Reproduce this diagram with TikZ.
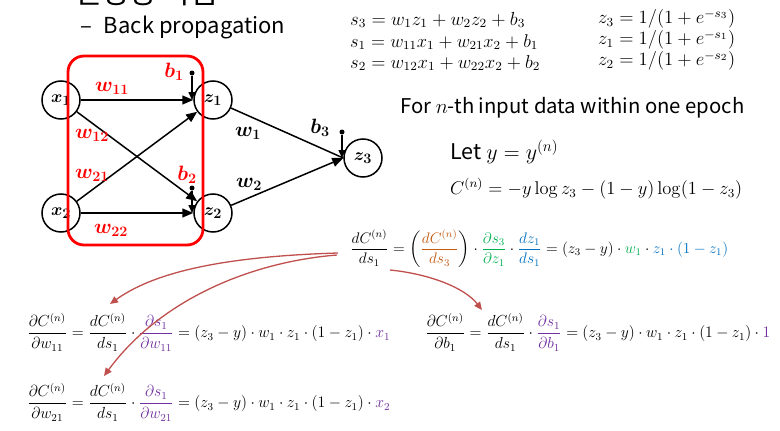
\documentclass[tikz,border=0pt]{standalone}
\usepackage[no-math]{fontspec}
\usepackage{amsmath,bm,graphicx}
\setmainfont{Noto Sans CJK KR}
\usetikzlibrary{arrows.meta}
\definecolor{boxred}{RGB}{255,0,0}
\definecolor{arrred}{RGB}{192,80,77}
\definecolor{brn}{RGB}{197,90,17}
\definecolor{grn}{RGB}{0,176,80}
\definecolor{blu}{RGB}{0,112,192}
\definecolor{pur}{RGB}{112,48,160}
\newcommand{\fitw}[2]{\resizebox{#1pt}{!}{#2}}
\newcommand{\fitwh}[3]{\resizebox*{#1pt}{#2pt}{#3}}
\tikzset{
  neuron/.style={circle,draw,line width=1.5pt,minimum size=38pt,inner sep=0pt,font=\fontsize{19}{22}\selectfont},
  conn/.style={line width=1.5pt,-{Triangle[length=11pt,width=9pt]}},
  biasarr/.style={line width=1.5pt,-{Triangle[length=8pt,width=7pt]}},
  biasdot/.style={circle,fill,inner sep=0pt,minimum size=5pt},
  wlab/.style={text=boxred,font=\fontsize{20}{24}\selectfont,inner sep=0pt},
  blab/.style={text=black,font=\fontsize{20}{24}\selectfont,inner sep=0pt},
  eqn/.style={anchor=west,inner sep=0pt,font=\fontsize{12}{14}\selectfont},
  txt/.style={anchor=west,inner sep=0pt,font=\fontsize{20.3}{24}\selectfont},
  redarrow/.style={arrred,line width=1.3pt,-{Triangle[length=8pt,width=7pt]}}
}
\begin{document}
\begin{tikzpicture}[x=1pt,y=-1pt]
\clip (0,0) rectangle (780,431);
\fill[white] (0,0) rectangle (780,431);
% title (cut off at the top edge, as in the reference)
\node[anchor=base west,inner sep=0pt,font=\fontsize{30}{34}\selectfont] (title) at (74,3) {신경망 학습};
\node[anchor=base west,inner sep=0pt,font=\fontsize{22}{26}\selectfont] (sub) at (80,33) {–\hspace{12pt}Back propagation};
% neurons
\node[neuron] (x1) at (61,100) {$\bm{x_1}$};
\node[neuron] (x2) at (61,213) {$\bm{x_2}$};
\node[neuron] (z1) at (213,100) {$\bm{z_1}$};
\node[neuron] (z2) at (213,213) {$\bm{z_2}$};
\node[neuron] (z3) at (363,158) {$\bm{z_3}$};
\draw[conn] (x1) -- (z1);
\draw[conn] (x1) -- (z2);
\draw[conn] (x2) -- (z1);
\draw[conn] (x2) -- (z2);
\draw[line width=1.5pt] (z1) -- (z3.west);
\draw[conn] (z2) -- (z3.west);
\node[biasdot] (b1d) at (192,73) {};
\node[biasdot] (b2d) at (192,188) {};
\node[biasdot] (b3d) at (342,132) {};
\draw[biasarr] (b1d) -- (b1d |- z1);
\draw[biasarr] (b2d) -- (b2d |- z2);
\draw[biasarr] (b3d) -- (b3d |- z3);
% labels
\node[wlab] (lw11) at (112,88) {$\bm{w_{11}}$};
\node[wlab] (lw12) at (92,135) {$\bm{w_{12}}$};
\node[wlab] (lw21) at (92,175) {$\bm{w_{21}}$};
\node[wlab] (lw22) at (111,230) {$\bm{w_{22}}$};
\node[wlab] (lb1) at (174,72) {$\bm{b_1}$};
\node[wlab] (lb2) at (187,175) {$\bm{b_2}$};
\node[blab] (lw1) at (248,133) {$\bm{w_1}$};
\node[blab] (lw2) at (249,184) {$\bm{w_2}$};
\node[blab] (lb3) at (320,128) {$\bm{b_3}$};
% red box
\draw[boxred,line width=2.8pt,rounded corners=16pt] (68,56) rectangle (203,245);
% top equations
\node[eqn] (eqs3) at (350,20) {\fitw{175}{$s_3 = w_1z_1 + w_2z_2 + b_3$}};
\node[eqn] (eqs1) at (350,42) {\fitw{188}{$s_1 = w_{11}x_1 + w_{21}x_2 + b_1$}};
\node[eqn] (eqs2) at (350,63) {\fitw{190}{$s_2 = w_{12}x_1 + w_{22}x_2 + b_2$}};
\node[eqn] (eqz3) at (598,19) {\fitw{137}{$z_3 = 1/(1+e^{-s_3})$}};
\node[eqn] (eqz1) at (598,40) {\fitw{137}{$z_1 = 1/(1+e^{-s_1})$}};
\node[eqn] (eqz2) at (598,61) {\fitw{137}{$z_2 = 1/(1+e^{-s_2})$}};
% text
\node[txt] (fortxt) at (400,108) {For $n$-th input data within one epoch};
\node[txt] (lettxt) at (450,152) {\fitw{108}{Let $y = y^{(n)}$}};
\node[eqn] (cost) at (450,189) {\fitw{292}{$C^{(n)} = -y\log z_3 - (1-y)\log(1-z_3)$}};
% chain rule
\node[eqn] (e0) at (350,249) {\fitwh{378}{38}{$\dfrac{dC^{(n)}}{ds_1} = \left(\textcolor{brn}{\dfrac{dC^{(n)}}{ds_3}}\right)\cdot\textcolor{grn}{\dfrac{\partial s_3}{\partial z_1}}\cdot\textcolor{blu}{\dfrac{dz_1}{ds_1}} = (z_3-y)\cdot\textcolor{grn}{w_1}\cdot\textcolor{blu}{z_1\cdot(1-z_1)}$}};
\node[eqn] (e1) at (27,332) {\fitwh{363}{38}{$\dfrac{\partial C^{(n)}}{\partial w_{11}} = \dfrac{dC^{(n)}}{ds_1}\cdot\textcolor{pur}{\dfrac{\partial s_1}{\partial w_{11}}} = (z_3-y)\cdot w_1\cdot z_1\cdot(1-z_1)\cdot\textcolor{pur}{x_1}$}};
\node[eqn] (e2) at (425,332) {\fitwh{345}{38}{$\dfrac{\partial C^{(n)}}{\partial b_1} = \dfrac{dC^{(n)}}{ds_1}\cdot\textcolor{pur}{\dfrac{\partial s_1}{\partial b_1}} = (z_3-y)\cdot w_1\cdot z_1\cdot(1-z_1)\cdot\textcolor{pur}{1}$}};
\node[eqn] (e3) at (27,402) {\fitwh{363}{38}{$\dfrac{\partial C^{(n)}}{\partial w_{21}} = \dfrac{dC^{(n)}}{ds_1}\cdot\textcolor{pur}{\dfrac{\partial s_1}{\partial w_{21}}} = (z_3-y)\cdot w_1\cdot z_1\cdot(1-z_1)\cdot\textcolor{pur}{x_2}$}};
% red arrows
\coordinate (sa) at (338,253);
\coordinate (sb) at (337,255);
\coordinate (sc) at (390,270);
\coordinate (ta) at (110,304);
\coordinate (tb) at (104,376);
\coordinate (tc) at (482,310);
\draw[redarrow] (sa) .. controls (240,256) and (160,268) .. (ta);
\draw[redarrow] (sb) .. controls (250,262) and (160,300) .. (tb);
\draw[redarrow] (sc) .. controls (430,274) and (465,288) .. (tc);
\end{tikzpicture}
\end{document}
